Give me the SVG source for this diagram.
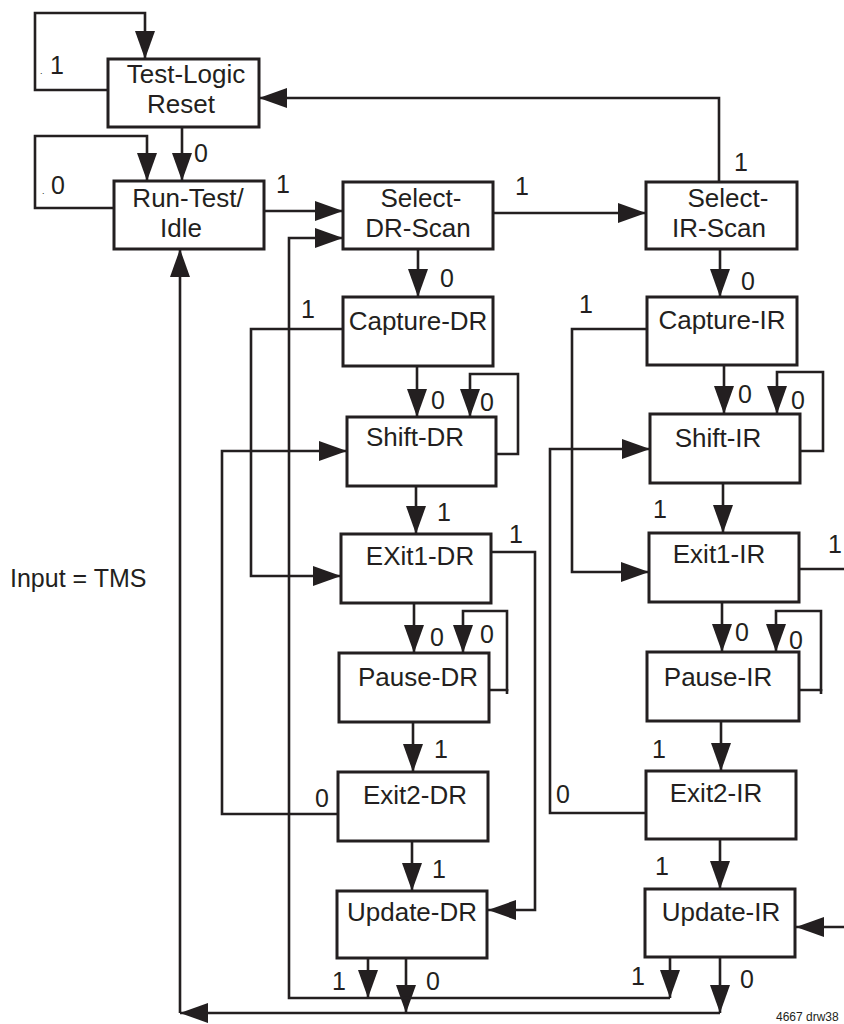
<svg xmlns="http://www.w3.org/2000/svg" width="844" height="1024" viewBox="0 0 844 1024">
<defs>
<marker id="ah" markerUnits="userSpaceOnUse" markerWidth="28" markerHeight="20" viewBox="0 0 28 20" refX="28" refY="10" orient="auto">
<path d="M0,0 L28,10 L0,20 z" fill="#231f20"/>
</marker>
<style>
.box{fill:#fff;stroke:#231f20;stroke-width:3}
.bt{font-family:"Liberation Sans",Arial,Helvetica,sans-serif;font-size:26px;fill:#231f20;text-anchor:middle}
.lb{font-family:"Liberation Sans",Arial,Helvetica,sans-serif;font-size:25px;fill:#231f20}
.c{fill:none;stroke:#231f20;stroke-width:2.6}
.a{marker-end:url(#ah)}
</style>
</defs>
<rect width="844" height="1024" fill="#fff"/>
<g id="connectors">
<path class="c a" d="M108,90 H35 V13 H145 V59"/>
<path class="c a" d="M182,127 V181"/>
<path class="c a" d="M114,208 H35 V136 H147 V181"/>
<path class="c a" d="M264,211 H343"/>
<path class="c a" d="M493,213 H646"/>
<path class="c a" d="M719,182 V98 H259"/>
<path class="c a" d="M418,249 V297"/>
<path class="c a" d="M417,366 V417"/>
<path class="c a" d="M496,454 H518 V374 H470 V417"/>
<path class="c a" d="M343,329 H251 V576 H341"/>
<path class="c a" d="M416,486 V534"/>
<path class="c a" d="M491,552 H535 V910 H488"/>
<path class="c a" d="M414,603 V653"/>
<path class="c a" d="M489,690 H507 V611 H463 V653"/>
<path class="c" d="M507,689 V694"/>
<path class="c a" d="M413,722 V772"/>
<path class="c a" d="M338,814 H222 V451 H347"/>
<path class="c a" d="M412,841 V891"/>
<path class="c a" d="M368,958 V998"/>
<path class="c a" d="M406,958 V1013"/>
<path class="c a" d="M670,998 H289 V238 H343"/>
<path class="c a" d="M720,1013 H180"/>
<path class="c a" d="M180,1013 V249"/>
<path class="c a" d="M720,249 V297"/>
<path class="c a" d="M724,365 V414"/>
<path class="c a" d="M800,451 H823 V372 H777 V414"/>
<path class="c a" d="M647,329 H572 V572 H649"/>
<path class="c a" d="M723,483 V533"/>
<path class="c" d="M799,569 H844"/>
<path class="c a" d="M722,602 V652"/>
<path class="c a" d="M799,690 H821 V611 H776 V652"/>
<path class="c" d="M821,689 V694"/>
<path class="c a" d="M721,721 V771"/>
<path class="c a" d="M646,813 H550 V449 H650"/>
<path class="c a" d="M720,839 V889"/>
<path class="c a" d="M844,927 H796"/>
<path class="c a" d="M670,957 V998"/>
<path class="c a" d="M720,957 V1013"/>
</g>
<g id="test-logic-reset"><rect class="box" x="108" y="59" width="151" height="68"/><text class="bt" x="186" y="83">Test-Logic</text><text class="bt" x="181" y="113">Reset</text></g>
<g id="run-test-idle"><rect class="box" x="114" y="181" width="150" height="68"/><text class="bt" x="188" y="207">Run-Test/</text><text class="bt" x="181" y="237">Idle</text></g>
<g id="select-dr-scan"><rect class="box" x="343" y="182" width="150" height="67"/><text class="bt" x="421" y="207">Select-</text><text class="bt" x="418" y="237">DR-Scan</text></g>
<g id="select-ir-scan"><rect class="box" x="646" y="182" width="151" height="67"/><text class="bt" x="728" y="207">Select-</text><text class="bt" x="719" y="237">IR-Scan</text></g>
<g id="capture-dr"><rect class="box" x="343" y="297" width="150" height="69"/><text class="bt" x="418" y="330">Capture-DR</text></g>
<g id="capture-ir"><rect class="box" x="647" y="297" width="150" height="68"/><text class="bt" x="722" y="329">Capture-IR</text></g>
<g id="shift-dr"><rect class="box" x="347" y="417" width="149" height="69"/><text class="bt" x="415" y="446">Shift-DR</text></g>
<g id="shift-ir"><rect class="box" x="650" y="414" width="150" height="69"/><text class="bt" x="718" y="447">Shift-IR</text></g>
<g id="exit1-dr"><rect class="box" x="341" y="534" width="150" height="69"/><text class="bt" x="420" y="565">EXit1-DR</text></g>
<g id="exit1-ir"><rect class="box" x="649" y="533" width="150" height="69"/><text class="bt" x="719" y="563">Exit1-IR</text></g>
<g id="pause-dr"><rect class="box" x="339" y="653" width="150" height="69"/><text class="bt" x="418" y="686">Pause-DR</text></g>
<g id="pause-ir"><rect class="box" x="647" y="652" width="152" height="69"/><text class="bt" x="718" y="686">Pause-IR</text></g>
<g id="exit2-dr"><rect class="box" x="338" y="772" width="150" height="69"/><text class="bt" x="415" y="804">Exit2-DR</text></g>
<g id="exit2-ir"><rect class="box" x="646" y="771" width="150" height="68"/><text class="bt" x="716" y="802">Exit2-IR</text></g>
<g id="update-dr"><rect class="box" x="337" y="891" width="150" height="67"/><text class="bt" x="412" y="921">Update-DR</text></g>
<g id="update-ir"><rect class="box" x="645" y="889" width="150" height="68"/><text class="bt" x="721" y="921">Update-IR</text></g>
<g id="labels">
<text class="lb" x="40" y="74"><tspan style="font-size:9px">.</tspan><tspan x="50">1</tspan></text>
<text class="lb" x="42" y="194"><tspan style="font-size:9px">.</tspan><tspan x="51">0</tspan></text>
<text class="lb" x="194" y="162">0</text>
<text class="lb" x="276" y="193">1</text>
<text class="lb" x="515" y="195">1</text>
<text class="lb" x="734" y="171">1</text>
<text class="lb" x="440" y="287">0</text>
<text class="lb" x="301" y="318">1</text>
<text class="lb" x="741" y="290">0</text>
<text class="lb" x="579" y="313">1</text>
<text class="lb" x="431" y="409">0</text>
<text class="lb" x="480" y="411">0</text>
<text class="lb" x="437" y="521">1</text>
<text class="lb" x="509" y="543">1</text>
<text class="lb" x="430" y="646">0</text>
<text class="lb" x="480" y="643">0</text>
<text class="lb" x="434" y="758">1</text>
<text class="lb" x="315" y="807">0</text>
<text class="lb" x="432" y="878">1</text>
<text class="lb" x="332" y="990">1</text>
<text class="lb" x="426" y="990">0</text>
<text class="lb" x="738" y="403">0</text>
<text class="lb" x="791" y="409">0</text>
<text class="lb" x="653" y="518">1</text>
<text class="lb" x="828" y="553">1</text>
<text class="lb" x="735" y="641">0</text>
<text class="lb" x="789" y="649">0</text>
<text class="lb" x="652" y="758">1</text>
<text class="lb" x="556" y="803">0</text>
<text class="lb" x="655" y="875">1</text>
<text class="lb" x="631" y="985">1</text>
<text class="lb" x="740" y="988">0</text>
<text class="lb" x="10" y="587" style="font-size:25px">Input = TMS</text>
<text class="lb" x="776" y="1021" style="font-size:12px">4667 drw38</text>
</g>
</svg>
